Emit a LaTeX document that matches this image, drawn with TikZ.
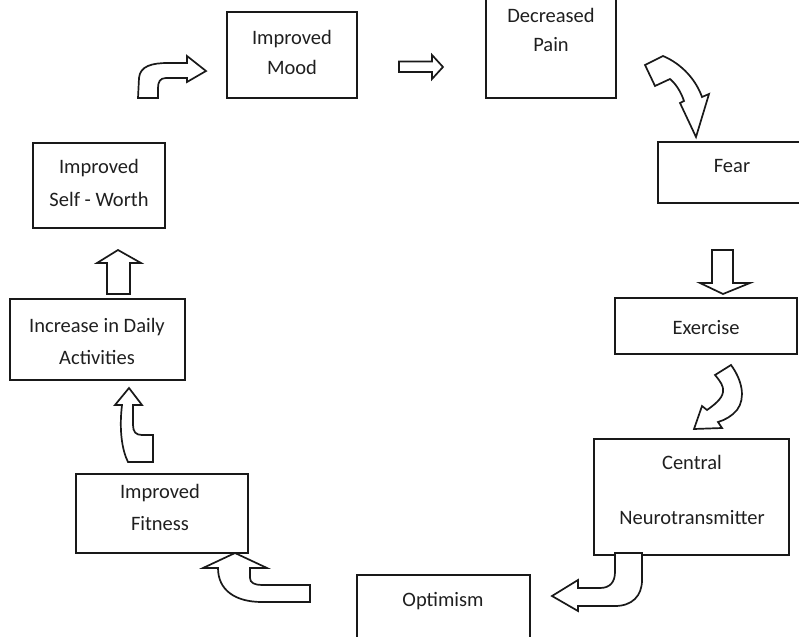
\documentclass[tikz,border=0pt]{standalone}
\usepackage{fontspec}
\setmainfont{Carlito}
\begin{document}
\begin{tikzpicture}[x=1pt,y=-1pt,
  box/.style={draw=black!90, line width=1.6pt, rectangle, inner sep=0pt},
  lbl/.style={anchor=base, inner sep=0pt, font=\fontsize{20.5}{24}\selectfont, text=black!88},
  blockarrow/.style={draw=black!90, line width=1.7pt, fill=white, line join=miter}]
\useasboundingbox (0,0) rectangle (799,636);
\clip (0,0) rectangle (799,636);

% ---------- boxes ----------
\node[box, minimum width=130pt, minimum height=86pt]  (mood)  at (292,55)    {};
\node[box, minimum width=130pt, minimum height=138pt] (pain)  at (551,29)    {};
\node[box, minimum width=148pt, minimum height=61pt]  (fear)  at (732,172.5) {};
\node[box, minimum width=182pt, minimum height=56pt]  (exer)  at (706,326)   {};
\node[box, minimum width=195pt, minimum height=116pt] (neuro) at (691.5,497) {};
\node[box, minimum width=173pt, minimum height=105pt] (optim) at (443.5,627.5) {};
\node[box, minimum width=172pt, minimum height=79pt]  (fit)   at (162,513.5) {};
\node[box, minimum width=175pt, minimum height=81pt]  (daily) at (97.5,339.5) {};
\node[box, minimum width=132pt, minimum height=85pt]  (worth) at (99,185.5)  {};

% ---------- labels ----------
\node[lbl] (mood1)  at (292,45)   {Improved};
\node[lbl] (mood2)  at (292,75)   {Mood};
\node[lbl] (pain1)  at (551,23)   {Decreased};
\node[lbl] (pain2)  at (551,52)   {Pain};
\node[lbl] (fear1)  at (732,173)  {Fear};
\node[lbl] (exer1)  at (706,334)  {Exercise};
\node[lbl] (neuro1) at (692,469)  {Central};
\node[lbl] (neuro2) at (692,524)  {Neurotransmitter};
\node[lbl] (optim1) at (443,606)  {Optimism};
\node[lbl] (fit1)   at (160,498)  {Improved};
\node[lbl] (fit2)   at (160,530)  {Fitness};
\node[lbl] (daily1) at (97,332)   {Increase in Daily};
\node[lbl] (daily2) at (97,364)   {Activities};
\node[lbl] (worth1) at (99,174)   {Improved};
\node[lbl] (worth2) at (99,207)   {Self - Worth};

% ---------- block arrows ----------
% Self-Worth -> Mood (bent upward then right)
\draw[blockarrow] (138,98) -- (139,78) .. controls (140,66) and (152,63) .. (168,63)
  -- (187,63) -- (187,56) -- (206,71) -- (187,82) -- (187,78) -- (166,78)
  .. controls (160,78) and (158,82) .. (158,88) -- (158,98) -- cycle;
% Mood -> Pain
\draw[blockarrow] (399,61.5) -- (432,61.5) -- (432,55) -- (443,67) -- (432,79)
  -- (432,72) -- (399,72) -- cycle;
% Pain -> Fear
\draw[blockarrow] (645,65) -- (655,86) -- (670,79)
  .. controls (676,84) and (681,92) .. (684,101)
  -- (680,103) -- (696,137) -- (709,94) -- (702,97)
  .. controls (696,80) and (682,64) .. (663,56) -- cycle;
% Fear -> Exercise
\draw[blockarrow] (712,250) -- (733,250) -- (733,283) -- (750,283) -- (723,294)
  -- (700,283) -- (712,283) -- cycle;
% Exercise -> Central Neurotransmitter
\draw[blockarrow] (715,375) -- (731,365) .. controls (742,380) and (746,398) .. (737,410)
  .. controls (732,416) and (725,420) .. (718,422) -- (722,428) -- (694,429)
  -- (702,406) -- (707,410) .. controls (714,405) and (722,399) .. (723,392)
  .. controls (724,386) and (720,381) .. (715,375) -- cycle;
% Central Neurotransmitter -> Optimism
\draw[blockarrow] (615,553) -- (642,553) -- (642,580)
  .. controls (642,596) and (632,606) .. (615,606) -- (578,606) -- (578,611)
  -- (552,596) -- (578,580) -- (578,588) -- (600,588)
  .. controls (610,588) and (615,582) .. (615,572) -- cycle;
% Optimism -> Improved Fitness
\draw[blockarrow] (235,553) -- (267,568) -- (250,568) -- (250,578)
  .. controls (250,583) and (255,585) .. (262,585) -- (310,585) -- (310,602)
  -- (262,602) .. controls (235,602) and (218,590) .. (218,568) -- (203,568) -- cycle;
% Improved Fitness -> Daily Activities
\draw[blockarrow] (129,388) -- (142,405) -- (133,405) -- (133,425)
  .. controls (133,432) and (136,435) .. (142,435) -- (153,435) -- (153,462)
  -- (128,462) .. controls (122,450) and (119,430) .. (122,405) -- (115,405) -- cycle;
% Daily Activities -> Self-Worth
\draw[blockarrow] (118,250) -- (141,263) -- (130,263) -- (130,294) -- (107,294)
  -- (107,263) -- (97,263) -- cycle;
\end{tikzpicture}
\end{document}
